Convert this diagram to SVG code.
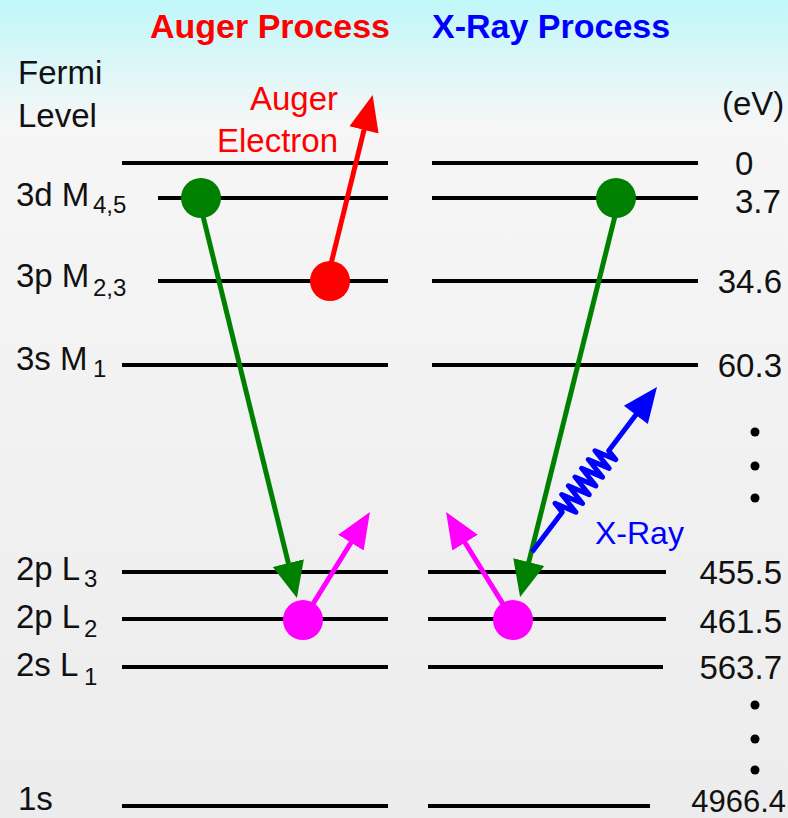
<svg xmlns="http://www.w3.org/2000/svg" width="788" height="818" viewBox="0 0 788 818">
<defs>
<linearGradient id="bg" x1="0" y1="0" x2="0" y2="1">
<stop offset="0" stop-color="#c0f7f9"/>
<stop offset="0.15" stop-color="#f6f6f6"/>
<stop offset="1" stop-color="#ececec"/>
</linearGradient>
<marker id="hG" markerUnits="userSpaceOnUse" markerWidth="40" markerHeight="40" viewBox="0 -20 40 40" refX="2" refY="0" orient="auto"><path d="M0,-16 L36,0 L0,16 z" fill="#008000"/></marker>
<marker id="hR" markerUnits="userSpaceOnUse" markerWidth="40" markerHeight="40" viewBox="0 -20 40 40" refX="2" refY="0" orient="auto"><path d="M0,-15 L36,0 L0,15 z" fill="#ff0000"/></marker>
<marker id="hM" markerUnits="userSpaceOnUse" markerWidth="40" markerHeight="40" viewBox="0 -20 40 40" refX="2" refY="0" orient="auto"><path d="M0,-15 L36,0 L0,15 z" fill="#ff00ff"/></marker>
</defs>
<style>
text{font-family:"Liberation Sans",Arial,sans-serif;fill:#111}
.lbl{font-size:33px}
.sub{font-size:24px}
.num{font-size:33px}
.title{font-size:34px;font-weight:bold}
.lvl line{stroke:#000;stroke-width:4}
.arr{fill:none;stroke-width:5}
.dot{fill:#000}
</style>
<rect width="788" height="818" fill="url(#bg)"/>

<g id="titles">
<text class="title" x="150" y="38" style="fill:#ff0000">Auger Process</text>
<text class="title" x="432" y="38" style="fill:#0000ff">X-Ray Process</text>
</g>

<g id="levels" class="lvl">
<line x1="122" y1="163" x2="388" y2="163"/><line x1="432" y1="163" x2="698" y2="163"/>
<line x1="158" y1="198" x2="388" y2="198"/><line x1="432" y1="198" x2="698" y2="198"/>
<line x1="158" y1="281" x2="388" y2="281"/><line x1="432" y1="281" x2="698" y2="281"/>
<line x1="122" y1="365" x2="388" y2="365"/><line x1="432" y1="365" x2="698" y2="365"/>
<line x1="122" y1="572" x2="388" y2="572"/><line x1="428" y1="572" x2="666" y2="572"/>
<line x1="122" y1="619" x2="388" y2="619"/><line x1="428" y1="619" x2="666" y2="619"/>
<line x1="122" y1="667" x2="388" y2="667"/><line x1="428" y1="667" x2="663" y2="667"/>
<line x1="122" y1="806" x2="388" y2="806"/><line x1="428" y1="806" x2="650" y2="806"/>
</g>

<g id="level-labels">
<text class="lbl" x="18" y="84">Fermi</text>
<text class="lbl" x="18" y="127">Level</text>
<text class="lbl" x="16" y="206">3d M</text><text class="sub" x="93" y="213">4,5</text>
<text class="lbl" x="16" y="287">3p M</text><text class="sub" x="93" y="296">2,3</text>
<text class="lbl" x="16" y="370">3s M</text><text class="sub" x="93" y="377">1</text>
<text class="lbl" x="16" y="580">2p L</text><text class="sub" x="84" y="587">3</text>
<text class="lbl" x="16" y="628">2p L</text><text class="sub" x="84" y="637">2</text>
<text class="lbl" x="16" y="676">2s L</text><text class="sub" x="84" y="685">1</text>
<text class="lbl" x="18" y="810">1s</text>
</g>

<g id="energies">
<text class="lbl" x="722" y="115">(eV)</text>
<text class="num" x="735" y="175">0</text>
<text class="num" x="735" y="213">3.7</text>
<text class="num" x="782" y="293" text-anchor="end">34.6</text>
<text class="num" x="782" y="377" text-anchor="end">60.3</text>
<text class="num" x="782" y="584" text-anchor="end">455.5</text>
<text class="num" x="782" y="633" text-anchor="end">461.5</text>
<text class="num" x="782" y="679" text-anchor="end">563.7</text>
<text class="num" x="786" y="812" text-anchor="end" style="font-size:31px">4966.4</text>
<circle class="dot" cx="755" cy="432" r="4.5"/>
<circle class="dot" cx="755" cy="466" r="4.5"/>
<circle class="dot" cx="755" cy="498" r="4.5"/>
<circle class="dot" cx="755" cy="705" r="4.5"/>
<circle class="dot" cx="755" cy="739" r="4.5"/>
<circle class="dot" cx="755" cy="770" r="4.5"/>
</g>

<g id="connectors">
<path class="arr" d="M202,212 L288.8,565" stroke="#008000" marker-end="url(#hG)"/>
<path class="arr" d="M330,268 L364.5,128" stroke="#ff0000" marker-end="url(#hR)"/>
<path class="arr" d="M303,620 L352,541" stroke="#ff00ff" marker-end="url(#hM)"/>
<path class="arr" d="M513,620 L464,541" stroke="#ff00ff" marker-end="url(#hM)"/>
<path class="arr" d="M616,212 L528.3,564" stroke="#008000" marker-end="url(#hG)"/>
<g id="xray-photon" transform="translate(532,552) rotate(-52.85)">
<path d="M0,0 H50 L52.75,-11 L58.25,11 L63.75,-11 L69.25,11 L74.75,-11 L80.25,11 L85.75,-11 L91.25,11 L96.75,-11 L102.25,11 L107.75,-11 L113.25,11 L118.75,-11 L124.25,11 L127,0 H174" fill="none" stroke="#0000ff" stroke-width="5" stroke-linejoin="round"/>
<path d="M172,-15 L207,0 L172,15 z" fill="#0000ff"/>
</g>
</g>

<g id="electrons">
<circle id="e-3d-auger" cx="201" cy="198" r="20" fill="#008000"/>
<circle id="e-3p-auger" cx="330" cy="281" r="20" fill="#ff0000"/>
<circle id="e-2p-auger" cx="303" cy="620" r="20" fill="#ff00ff"/>
<circle id="e-3d-xray" cx="616" cy="198" r="20" fill="#008000"/>
<circle id="e-2p-xray" cx="513" cy="620" r="20" fill="#ff00ff"/>
</g>

<g id="annotations">
<text class="lbl" x="338" y="110" text-anchor="end" style="fill:#ff0000">Auger</text>
<text class="lbl" x="338" y="152" text-anchor="end" style="fill:#ff0000">Electron</text>
<text class="lbl" x="595" y="544" style="fill:#0000ff;font-size:32px">X-Ray</text>
</g>
</svg>
